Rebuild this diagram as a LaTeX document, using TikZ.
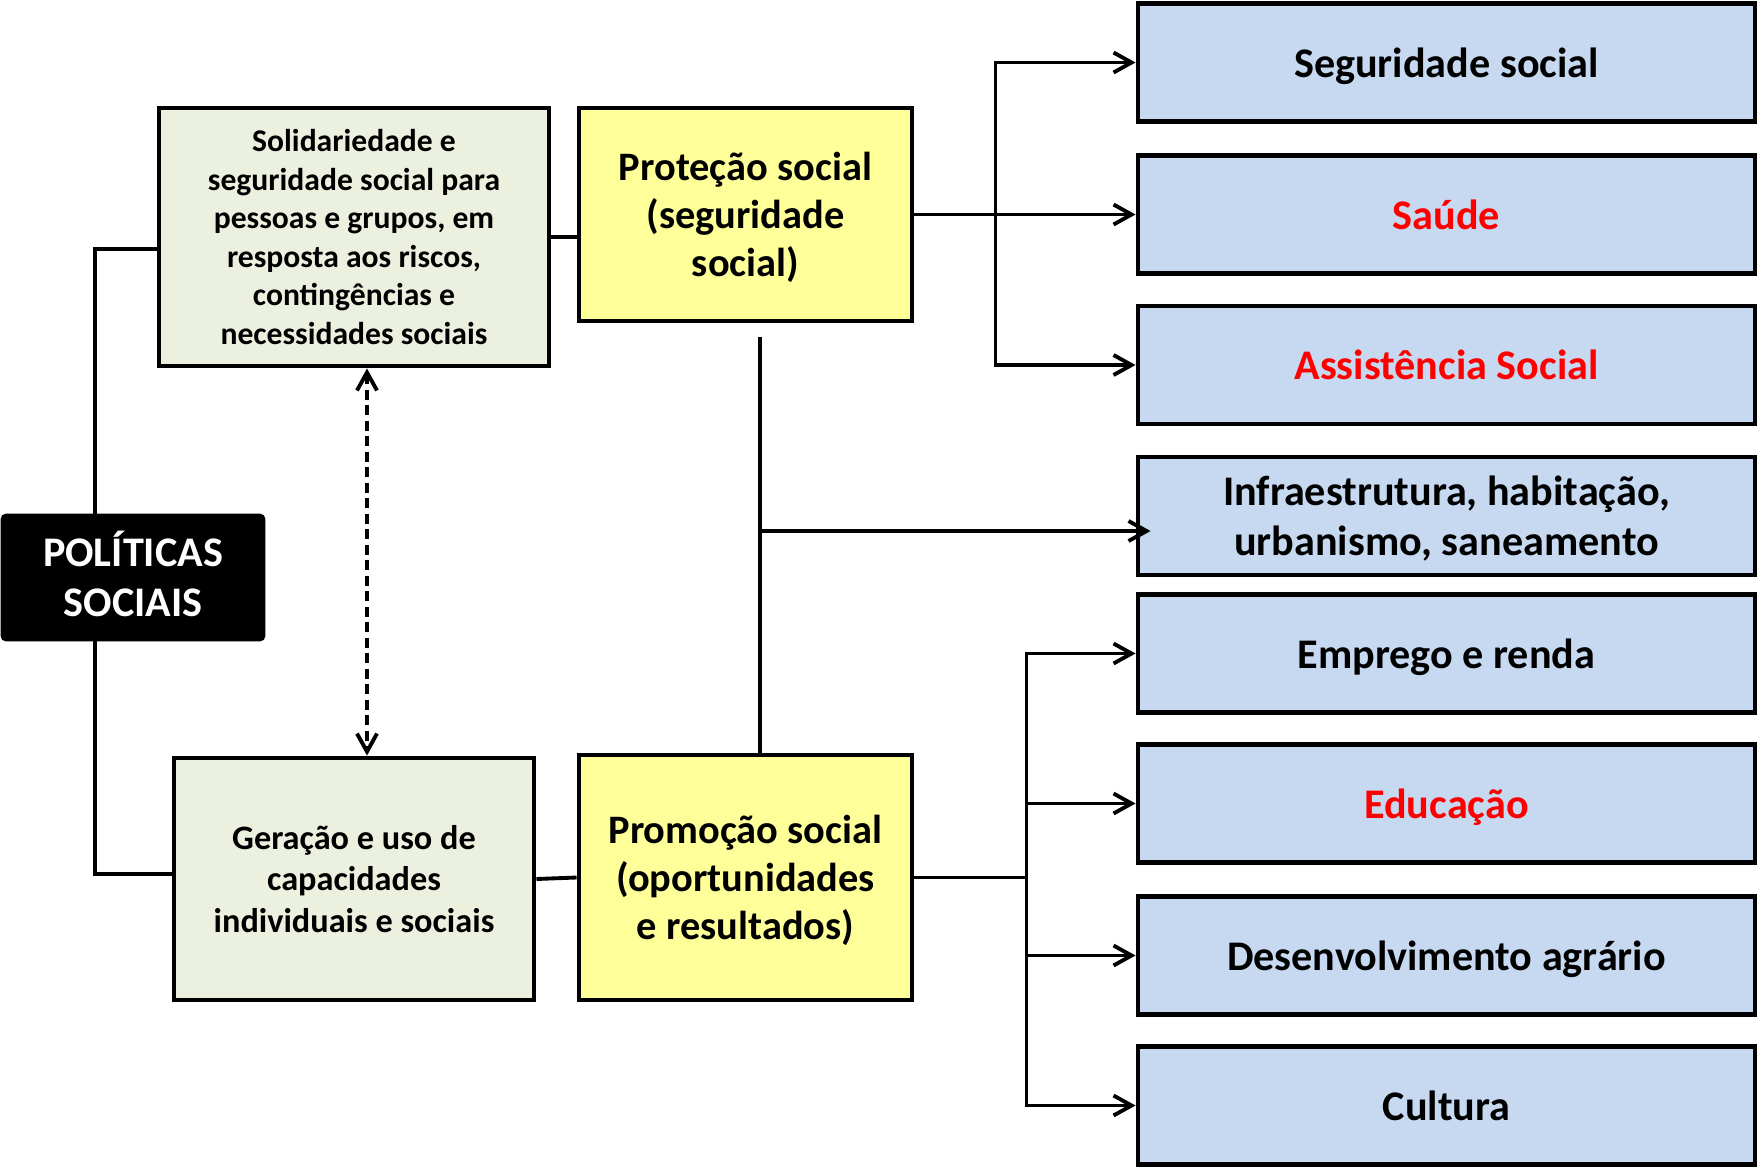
\documentclass[tikz,border=0pt]{standalone}
\usepackage{fontspec}
\setmainfont{Carlito}
\usetikzlibrary{arrows.meta}
\definecolor{verdeclaro}{HTML}{EBF1DE}
\definecolor{amarelo}{HTML}{FFFF99}
\definecolor{azulclaro}{HTML}{C6D9F1}
\tikzset{
	caixa/.style={draw, line width=1.4pt, align=center, inner sep=0pt},
	preta/.style={caixa, fill=black, text=white, rounded corners=1pt, minimum width=26mm, minimum height=12.3mm, text depth=1.9pt, font=\bfseries\fontsize{12}{14.2}\selectfont},
	verde/.style={caixa, fill=verdeclaro},
	amarela/.style={caixa, fill=amarelo, minimum width=33.3mm, text depth=0pt, font=\bfseries\fontsize{11.5}{13.7}\selectfont},
	azul/.style={caixa, fill=azulclaro, minimum width=61.7mm, minimum height=11.8mm, text depth=0pt, font=\bfseries\fontsize{12}{14.3}\selectfont},
	linha/.style={line width=1.1pt},
	flecha/.style={linha, -{Straight Barb[length=1.8mm, width=2mm]}}
}
\begin{document}
\begin{tikzpicture}[x=0.1mm, y=-0.1mm]
	\useasboundingbox (0,0) rectangle (1758,1167);
	\node[preta] (pol) at (133,577.5) {POLÍTICAS\\SOCIAIS};
	\node[verde, minimum width=39mm, minimum height=25.8mm, font=\bfseries\fontsize{9}{11}\selectfont] (sol) at (354,237)
		{Solidariedade e\\seguridade social para\\pessoas e grupos, em\\resposta aos riscos,\\contingências e\\necessidades sociais};
	\node[verde, minimum width=36mm, minimum height=24.2mm, font=\bfseries\fontsize{9.75}{11.7}\selectfont] (ger) at (354,879)
		{Geração e uso de\\capacidades\\individuais e sociais};
	\node[amarela, minimum height=21.3mm] (prot) at (745.5,214.5) {Proteção social\\(seguridade\\social)};
	\node[amarela, minimum height=24.5mm] (prom) at (745.5,877.5) {Promoção social\\(oportunidades\\e resultados)};
	\foreach \n/\y/\c/\t in {b1/62.5/black/Seguridade social, b2/214.5/red/Saúde, b3/365/red/Assistência Social,
		b4/516/black/{Infraestrutura, habitação,\\urbanismo, saneamento}, b5/653.5/black/Emprego e renda,
		b6/803.5/red/Educação, b7/955.5/black/Desenvolvimento agrário, b8/1105.5/black/Cultura}
		\node[azul, text=\c] (\n) at (1446.5,\y) {\t};

	\draw[linha] ([xshift=-3.8mm]pol.north) |- ([yshift=-1.2mm]sol.west);
	\draw[linha] ([xshift=-3.8mm]pol.south) |- ([yshift=.5mm]ger.west);
	\draw[linha] (sol.east) -- (sol.east -| prot.west);
	\draw[linha] (ger.east) -- (prom.west);
	\draw[linha, dash pattern=on 1mm off .55mm, {Straight Barb[length=1.8mm, width=2mm]}-{Straight Barb[length=1.8mm, width=2mm]}]
		([xshift=1.3mm]sol.south) -- ([xshift=1.3mm]ger.north);

	\coordinate (pj) at ([xshift=8.1mm]prot.east);
	\draw[flecha] (prot.east) -- (b2.west);
	\foreach \b in {b1,b3}
		\draw[flecha] (pj) |- (\b.west);

	\coordinate (vtop) at ([xshift=1.45mm,yshift=-1.4mm]prot.south);
	\coordinate (infra) at ([xshift=1.5mm,yshift=-1.5mm]b4.west);
	\draw[linha] (vtop) -- (vtop |- prom.north);
	\draw[flecha] (vtop |- infra) -- (infra);

	\coordinate (qj) at ([xshift=11.2mm]prom.east);
	\draw[linha] (prom.east) -- (qj);
	\foreach \b in {b5,b6,b7,b8}
		\draw[flecha] (qj) |- (\b.west);
\end{tikzpicture}
\end{document}
